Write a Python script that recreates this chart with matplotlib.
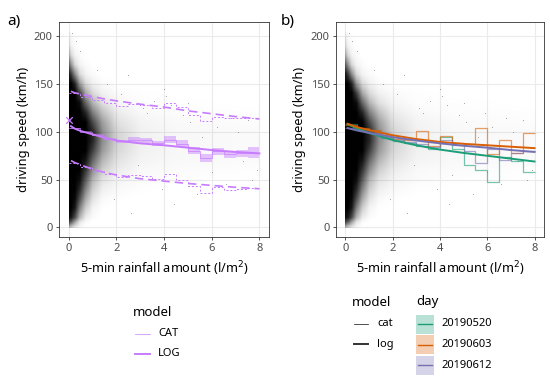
import numpy as np
import matplotlib
matplotlib.use("Agg")
import matplotlib.pyplot as plt
from matplotlib.colors import LinearSegmentedColormap
from matplotlib.image import NonUniformImage
from matplotlib.lines import Line2D
from matplotlib.patches import Rectangle

plt.rcParams['font.family'] = ['Noto Sans', 'DejaVu Sans']

cloud_x = [0.0, 0.1, 0.25, 0.45, 0.7, 1.0, 1.4, 2.0, 3.0, 4.5, 8.0]
cloud_y = [0, 5, 10, 20, 30, 40, 50, 60, 70, 80, 90, 100, 110, 120, 130, 140,
           150, 160, 170, 180, 190, 205]
cloud_d = np.array([
    # x: 0    .1    .25   .45   .7    1.0   1.4   2.0   3.0   4.5   8.0
    [0.30, 0.20, 0.10, 0.03, 0.00, 0.00, 0.00, 0.00, 0.00, 0.00, 0.00],  # 0
    [0.70, 0.60, 0.35, 0.10, 0.02, 0.00, 0.00, 0.00, 0.00, 0.00, 0.00],  # 5
    [0.95, 0.90, 0.70, 0.30, 0.08, 0.02, 0.00, 0.00, 0.00, 0.00, 0.00],  # 10
    [1.00, 1.00, 0.90, 0.50, 0.20, 0.05, 0.01, 0.00, 0.00, 0.00, 0.00],  # 20
    [1.00, 1.00, 0.97, 0.70, 0.35, 0.12, 0.03, 0.01, 0.00, 0.00, 0.00],  # 30
    [1.00, 1.00, 1.00, 0.85, 0.50, 0.20, 0.07, 0.03, 0.01, 0.00, 0.00],  # 40
    [1.00, 1.00, 1.00, 0.95, 0.65, 0.30, 0.12, 0.05, 0.02, 0.01, 0.00],  # 50
    [1.00, 1.00, 1.00, 1.00, 0.80, 0.45, 0.20, 0.08, 0.03, 0.02, 0.01],  # 60
    [1.00, 1.00, 1.00, 1.00, 0.92, 0.60, 0.30, 0.12, 0.05, 0.03, 0.02],  # 70
    [1.00, 1.00, 1.00, 1.00, 1.00, 0.75, 0.40, 0.16, 0.06, 0.035, 0.02],  # 80
    [1.00, 1.00, 1.00, 1.00, 1.00, 0.85, 0.45, 0.18, 0.06, 0.035, 0.02],  # 90
    [1.00, 1.00, 1.00, 1.00, 1.00, 0.85, 0.45, 0.17, 0.06, 0.03, 0.02],  # 100
    [1.00, 1.00, 1.00, 1.00, 1.00, 0.70, 0.38, 0.13, 0.05, 0.025, 0.015],  # 110
    [1.00, 1.00, 1.00, 1.00, 0.85, 0.50, 0.25, 0.08, 0.03, 0.015, 0.01],  # 120
    [1.00, 1.00, 1.00, 0.95, 0.60, 0.30, 0.13, 0.04, 0.015, 0.01, 0.00],  # 130
    [1.00, 1.00, 1.00, 0.75, 0.35, 0.15, 0.06, 0.02, 0.01, 0.00, 0.00],  # 140
    [1.00, 1.00, 0.85, 0.40, 0.15, 0.06, 0.02, 0.00, 0.00, 0.00, 0.00],  # 150
    [0.90, 0.75, 0.45, 0.15, 0.05, 0.02, 0.00, 0.00, 0.00, 0.00, 0.00],  # 160
    [0.60, 0.40, 0.15, 0.05, 0.02, 0.00, 0.00, 0.00, 0.00, 0.00, 0.00],  # 170
    [0.30, 0.15, 0.05, 0.02, 0.00, 0.00, 0.00, 0.00, 0.00, 0.00, 0.00],  # 180
    [0.12, 0.05, 0.02, 0.00, 0.00, 0.00, 0.00, 0.00, 0.00, 0.00, 0.00],  # 190
    [0.03, 0.01, 0.00, 0.00, 0.00, 0.00, 0.00, 0.00, 0.00, 0.00, 0.00],  # 205
])

# a few stray points outside the main cloud
stray_x = [0.15, 0.3, 0.5, 1.2, 1.6, 2.2, 2.6, 3.1, 3.3, 3.6, 4.0, 4.1, 4.3,
           4.4, 4.8, 5.1, 5.4, 5.9, 6.2, 6.6, 7.1, 7.5, 7.9, 2.5, 4.5, 3.9,
           5.6, 6.8, 7.7, 1.9, 2.9, 5.0, 6.0, 7.3]
stray_y = [203, 195, 185, 165, 150, 140, 15, 125, 120, 132, 145, 138, 128,
           25, 118, 110, 35, 120, 105, 45, 100, 112, 60, 160, 55, 40, 95,
           115, 50, 30, 65, 130, 58, 70]

# --- panel a: models over all days
log_x = [0.1, 0.25, 0.5, 1, 1.5, 2, 3, 4, 5, 6, 7, 8]
log_fit = [106, 103.5, 101, 97.5, 94, 91, 88, 86, 83.5, 81, 79, 77.5]
log_upr = [142.5, 141, 139.5, 137, 134.5, 132.5, 129, 126, 122, 119, 116, 113.5]
log_lwr = [70, 68, 65.5, 61, 57.5, 55, 51, 48.5, 46, 44, 42, 40.5]
zero_speed = 112.5

cat_edges = [0, 0.5, 1, 1.5, 2, 2.5, 3, 3.5, 4, 4.5, 5, 5.5, 6, 6.5, 7, 7.5, 8]
cat_fit = [104, 100, 96.5, 93, 90, 92, 91, 88, 92, 87.5, 80.5, 73, 79.5, 76.5, 77.5, 78]
cat_lo = [103.5, 99.5, 95.5, 92, 88, 89.5, 88, 85, 88.5, 84, 77, 69, 76, 72.5, 73.5, 72.5]
cat_hi = [104.5, 100.5, 97.5, 94, 92, 94.5, 94, 90.5, 95.5, 91, 84, 77, 83, 80.5, 81.5, 84]
cat_upr = [141, 137, 133.5, 130, 127, 129, 128, 125, 130, 126, 118, 111, 116, 114.5, 115, 115]
cat_lwr = [67, 63, 59.5, 56, 53, 55, 54, 51, 56, 50, 43, 36, 42, 39, 40, 41]

# --- panel b: one model per day
days = ['20190520', '20190603', '20190612']
day_colors = ['#1B9E77', '#D95F02', '#7570B3']
day_x = [0.1, 0.5, 1, 2, 3, 4, 5, 6, 7, 8]
day_log = [
    [108, 103.5, 99, 91.5, 86, 81.5, 78, 75, 72, 69],
    [108.5, 105, 102, 96.5, 92.5, 89.5, 87.5, 86, 84.5, 83],
    [104, 101.5, 99, 94.5, 91, 88, 85.5, 83.5, 81, 79],
]
day_cat = [
    [108, 103, 99, 94, 90, 88, 85, 82, 95, 82, 65, 60.5, 48, 74, 70, 58],
    [107, 104, 101.5, 97, 93, 92, 100.5, 85, 96, 88, 87, 104, 77, 92, 78, 99],
    [104, 102, 99, 95, 91, 89, 87, 84, 92, 86, 80, 67.5, 82, 71, 78, 80],
]

purple = '#C77CFF'
W, H = 550, 379
fig = plt.figure(figsize=(W / 100, H / 100), dpi=100)


def px(x, y):
    return x / W, 1 - y / H


cmap = LinearSegmentedColormap.from_list('cloud', [(0, 0, 0, 0), (0, 0, 0, 1)])


def base_axes(rect, label):
    ax = fig.add_axes(rect)
    ax.set_xlim(-0.4, 8.4)
    ax.set_ylim(-10, 215)
    ax.set_xticks([0, 2, 4, 6, 8])
    ax.set_yticks([0, 50, 100, 150, 200])
    ax.grid(True, color='#EBEBEB', lw=0.8, zorder=0)
    ax.set_axisbelow(True)
    for s in ax.spines.values():
        s.set_color('#333333')
        s.set_linewidth(0.6)
    ax.tick_params(length=2.5, width=0.6, color='#333333', labelcolor='#4D4D4D',
                   labelsize=8, pad=2)
    ax.set_xlabel('5-min rainfall amount (l/m$^2$)', fontsize=9.2, labelpad=4)
    ax.set_ylabel('driving speed (km/h)', fontsize=9.2, labelpad=3)
    im = NonUniformImage(ax, interpolation='bilinear', cmap=cmap,
                         extent=(0, 8, 0, 205), zorder=1)
    im.set_data(cloud_x, cloud_y, cloud_d)
    im.set_clim(0, 1)
    ax.add_image(im)
    im.set_clip_path(Rectangle((cloud_x[0], cloud_y[0]), cloud_x[-1] - cloud_x[0],
                               cloud_y[-1] - cloud_y[0], transform=ax.transData))
    ax.scatter(stray_x, stray_y, s=0.3, c='black', alpha=0.4, lw=0, zorder=1)
    fig.text(*px(label[1], label[2]), label[0], fontsize=11, va='center')
    return ax


# panel a
ax1 = base_axes([59 / W, 1 - 237 / H, 210 / W, 215 / H], ('a)', 7, 21))
ax1.stairs(cat_hi, cat_edges, baseline=cat_lo, fill=True, color=purple,
           alpha=0.45, lw=0, zorder=2)
ax1.stairs(cat_fit, cat_edges, color=purple, lw=0.6, alpha=0.8, baseline=None,
           zorder=3)
ax1.stairs(cat_upr, cat_edges, color=purple, lw=0.7, ls=(0, (2, 2)), baseline=None,
           zorder=3)
ax1.stairs(cat_lwr, cat_edges, color=purple, lw=0.7, ls=(0, (2, 2)), baseline=None,
           zorder=3)
ax1.plot(log_x, log_fit, color=purple, lw=1.4, zorder=4)
ax1.plot(log_x, log_upr, color=purple, lw=1.2, ls=(0, (5, 3)), zorder=4)
ax1.plot(log_x, log_lwr, color=purple, lw=1.2, ls=(0, (5, 3)), zorder=4)
ax1.scatter([0], [zero_speed], marker='x', s=22, color=purple, lw=0.9, zorder=4)

# panel b
ax2 = base_axes([335.7 / W, 1 - 237 / H, 208.3 / W, 215 / H], ('b)', 281, 21))
for vals, col in zip(day_cat, day_colors):
    ax2.stairs(vals, cat_edges, color=col, lw=0.9, alpha=0.6, baseline=None,
               zorder=3)
for vals, col in zip(day_log, day_colors):
    ax2.plot(day_x, vals, color=col, lw=1.4, zorder=4)

# legend a
fig.text(*px(133, 312), 'model', fontsize=9.5, va='center')
fig.add_artist(Line2D([135 / W, 150 / W], [1 - 334 / H] * 2, color=purple, lw=0.6, alpha=0.8))
fig.add_artist(Line2D([135 / W, 150 / W], [1 - 354 / H] * 2, color=purple, lw=1.4))
fig.text(*px(158, 334), 'CAT', fontsize=8, va='center')
fig.text(*px(158, 354), 'LOG', fontsize=8, va='center')

# legend b
fig.text(*px(352, 302), 'model', fontsize=9.5, va='center')
fig.add_artist(Line2D([354 / W, 368 / W], [1 - 324 / H] * 2, color='#333333', lw=0.6))
fig.add_artist(Line2D([354 / W, 368 / W], [1 - 344 / H] * 2, color='#333333', lw=1.4))
fig.text(*px(377, 324), 'cat', fontsize=8, va='center')
fig.text(*px(377, 344), 'log', fontsize=8, va='center')
fig.text(*px(416, 302), 'day', fontsize=9.5, va='center')
for i, (d, col) in enumerate(zip(days, day_colors)):
    yc = 324 + i * 20.5
    x0, y0 = px(416, yc + 9.5)
    fig.add_artist(Rectangle((x0, y0), 18 / W, 19 / H, transform=fig.transFigure,
                             facecolor=col, alpha=0.3, lw=0))
    fig.add_artist(Line2D([418 / W, 432 / W], [1 - yc / H] * 2, color=col, lw=1.0))
    fig.text(*px(441, yc), d, fontsize=8, va='center')

fig.savefig('out.png', dpi=100)
